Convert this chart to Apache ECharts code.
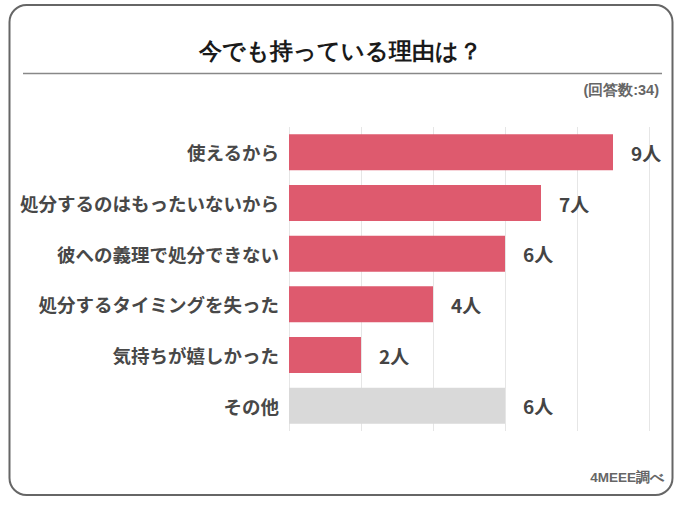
<!DOCTYPE html>
<html>
<head>
<meta charset="utf-8">
<script src="https://cdn.jsdelivr.net/npm/echarts@6/dist/echarts.min.js"></script>
<style>
html,body{margin:0;padding:0;background:#fff;}
#chart{width:690px;height:523px;}
</style>
</head>
<body>
<div id="chart"></div>
<script>
const titleText = '今でも持っている理由は？';
const noteText = '(回答数:34)';
const sourceText = '4MEEE調べ';
const categories = ['使えるから','処分するのはもったいないから','彼への義理で処分できない','処分するタイミングを失った','気持ちが嬉しかった','その他'];
const values = [9,7,6,4,2,6];
const unit = '人';
const otherCategory = 'その他';

const FONT = '"Noto Sans CJK JP", "Noto Sans", sans-serif';
const chart = echarts.init(document.getElementById('chart'), null, {renderer:'svg'});
const option = {
  backgroundColor:'#ffffff',
  animation:false,
  textStyle:{fontFamily:FONT},
  graphic:[
    {type:'rect', shape:{x:9.5,y:5,width:663,height:490,r:17}, style:{fill:'none',stroke:'#666',lineWidth:2}},
    {type:'line', shape:{x1:23,y1:73.5,x2:662,y2:73.5}, style:{stroke:'#888',lineWidth:1.5}},
    {type:'text', x:340, y:51, style:{text:titleText, fontSize:23, fontWeight:'bold', fill:'#1a1a1a', font:'bold 23px '+FONT, align:'center', verticalAlign:'middle'}},
    {type:'text', x:659, y:90, style:{text:noteText, fontSize:14.5, fontWeight:'bold', fill:'#666', font:'bold 14.5px '+FONT, align:'right', verticalAlign:'middle'}},
    {type:'text', x:664, y:477, style:{text:sourceText, fontSize:13.5, fontWeight:'bold', fill:'#666', font:'bold 13.5px '+FONT, align:'right', verticalAlign:'middle'}}
  ],
  grid:{left:289, right:41, top:127, bottom:92, containLabel:false},
  xAxis:{type:'value', min:0, max:10, interval:2,
    axisLabel:{show:false}, axisLine:{show:false}, axisTick:{show:false},
    splitLine:{show:true, lineStyle:{color:'#e6e6e6', width:1}}},
  yAxis:{type:'category', data:categories, inverse:true,
    axisLine:{show:false}, axisTick:{show:false}, splitLine:{show:false},
    axisLabel:{fontSize:18.5, fontWeight:'bold', color:'#484848', margin:10, fontFamily:FONT}},
  series:[{
    type:'bar', data:values, barWidth:36,
    itemStyle:{color:function(p){return p.name===otherCategory?'#d9d9d9':'#de5a6e';}},
    label:{show:true, position:'right', distance:18, fontSize:19, fontWeight:'bold', color:'#444', fontFamily:FONT,
      formatter:function(p){return p.value+unit;}}
  }]
};
chart.setOption(option);
</script>
</body>
</html>
